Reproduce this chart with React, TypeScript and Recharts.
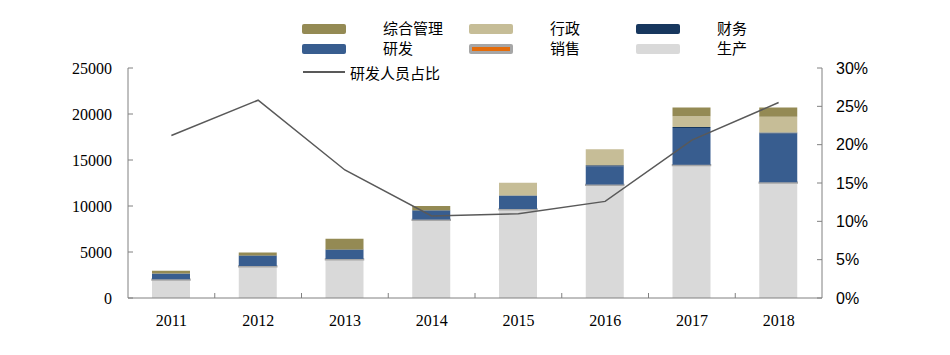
import React from "react";
import { ComposedChart, Bar, Line, XAxis, YAxis } from "recharts";

const years = ["2011", "2012", "2013", "2014", "2015", "2016", "2017", "2018"];
const production = [1950, 3400, 4150, 8450, 9600, 12250, 14400, 12500];
const sales = [80, 80, 80, 80, 80, 80, 80, 80];
const rd = [600, 1080, 980, 950, 1400, 2000, 4000, 5300];
const finance = [40, 50, 50, 50, 60, 100, 120, 120];
const admin = [0, 0, 0, 0, 1400, 1750, 1150, 1700];
const general = [280, 340, 1180, 480, 0, 0, 950, 1000];
const rdRatio = [21.2, 25.8, 16.7, 10.7, 11.0, 12.6, 20.6, 25.5];

const leftTicks = [0, 5000, 10000, 15000, 20000, 25000];
const rightTicks = [0, 5, 10, 15, 20, 25, 30];

const data = years.map((y, i) => ({
  year: y,
  生产: production[i],
  销售: sales[i],
  研发: rd[i],
  财务: finance[i],
  行政: admin[i],
  综合管理: general[i],
  研发人员占比: rdRatio[i],
}));

const C = {
  prod: "#d9d9d9",
  sales: "#e46c0a",
  salesEdge: "#a6a6a6",
  rd: "#385d8f",
  fin: "#17375e",
  admin: "#c6bd97",
  gen: "#948a54",
  line: "#595959",
  axis: "#808080",
};

const cjk = '"Noto Sans CJK SC", sans-serif';

function XTick(props: any) {
  const { x, y, payload, index } = props;
  const off = payload.offset || 0;
  return (
    <g>
      {index < years.length - 1 && (
        <line x1={x + off} x2={x + off} y1={y} y2={y - 5} stroke={C.axis} />
      )}
      <text x={x} y={y + 28} textAnchor="middle" fontFamily='"Liberation Serif", serif' fontSize={16} fill="#000">
        {payload.value}
      </text>
    </g>
  );
}

function Swatch({ color, edge }: { color: string; edge?: string }) {
  return (
    <div
      style={{
        width: 44,
        height: 10,
        borderRadius: 2,
        background: edge ? edge : color,
        display: "flex",
        alignItems: "center",
        justifyContent: "center",
      }}
    >
      {edge && <div style={{ width: 38, height: 4, background: color }} />}
    </div>
  );
}

const legendRows = [
  [
    { name: "综合管理", color: C.gen },
    { name: "行政", color: C.admin },
    { name: "财务", color: C.fin },
  ],
  [
    { name: "研发", color: C.rd },
    { name: "销售", color: C.sales, edge: C.salesEdge },
    { name: "生产", color: C.prod },
  ],
];
const colX = [302, 469, 636];

export default function App() {
  return (
    <div style={{ position: "absolute", left: 0, top: 0, width: 950, height: 355, background: "#fff" }}>
      {legendRows.map((row, r) =>
        row.map((it, c) => (
          <div key={`${r}-${c}`} style={{ position: "absolute", left: colX[c], top: 24 + r * 20, height: 12 }}>
            <Swatch color={it.color} edge={(it as any).edge} />
            <span
              style={{
                position: "absolute",
                left: 81,
                top: -6,
                fontFamily: cjk,
                fontSize: 15,
                lineHeight: "20px",
                whiteSpace: "nowrap",
                color: "#000",
              }}
            >
              {it.name}
            </span>
          </div>
        ))
      )}
      <div style={{ position: "absolute", left: 303, top: 62, height: 20, display: "flex", alignItems: "center" }}>
        <div style={{ width: 42, height: 2, background: C.line }} />
        <span style={{ marginLeft: 5, fontFamily: cjk, fontSize: 15, whiteSpace: "nowrap", color: "#000" }}>
          研发人员占比
        </span>
      </div>
      <ComposedChart width={950} height={355} data={data} margin={{ top: 68, right: 0, bottom: 27, left: 0 }}>
        <XAxis
          dataKey="year"
          yAxisId="left"
          tickLine={false}
          tickSize={0}
          tickMargin={0}
          stroke={C.axis}
          height={30}
          tick={<XTick />}
          interval={0}
        />
        <YAxis
          yAxisId="left"
          width={128}
          domain={[0, 25000]}
          ticks={leftTicks}
          tickSize={-5}
          tickMargin={21}
          stroke={C.axis}
          tick={{ fill: "#000", fontFamily: '"Liberation Serif", serif', fontSize: 16 }}
          interval={0}
        />
        <YAxis
          yAxisId="right"
          orientation="right"
          width={128}
          domain={[0, 30]}
          ticks={rightTicks}
          tickFormatter={(v: number) => `${v}%`}
          tickSize={-5}
          tickMargin={19}
          stroke={C.axis}
          tick={{ fill: "#000", fontFamily: '"Liberation Sans", sans-serif', fontSize: 16 }}
          interval={0}
        />
        <Bar yAxisId="left" dataKey="生产" stackId="a" fill={C.prod} barSize={38} isAnimationActive={false} />
        <Bar
          yAxisId="left"
          dataKey="销售"
          stackId="a"
          fill={C.sales}
          stroke={C.salesEdge}
          strokeWidth={1.5}
          barSize={38}
          isAnimationActive={false}
        />
        <Bar yAxisId="left" dataKey="研发" stackId="a" fill={C.rd} barSize={38} isAnimationActive={false} />
        <Bar yAxisId="left" dataKey="财务" stackId="a" fill={C.fin} barSize={38} isAnimationActive={false} />
        <Bar yAxisId="left" dataKey="行政" stackId="a" fill={C.admin} barSize={38} isAnimationActive={false} />
        <Bar yAxisId="left" dataKey="综合管理" stackId="a" fill={C.gen} barSize={38} isAnimationActive={false} />
        <Line
          yAxisId="right"
          dataKey="研发人员占比"
          stroke={C.line}
          strokeWidth={1.5}
          dot={false}
          isAnimationActive={false}
        />
      </ComposedChart>
    </div>
  );
}
